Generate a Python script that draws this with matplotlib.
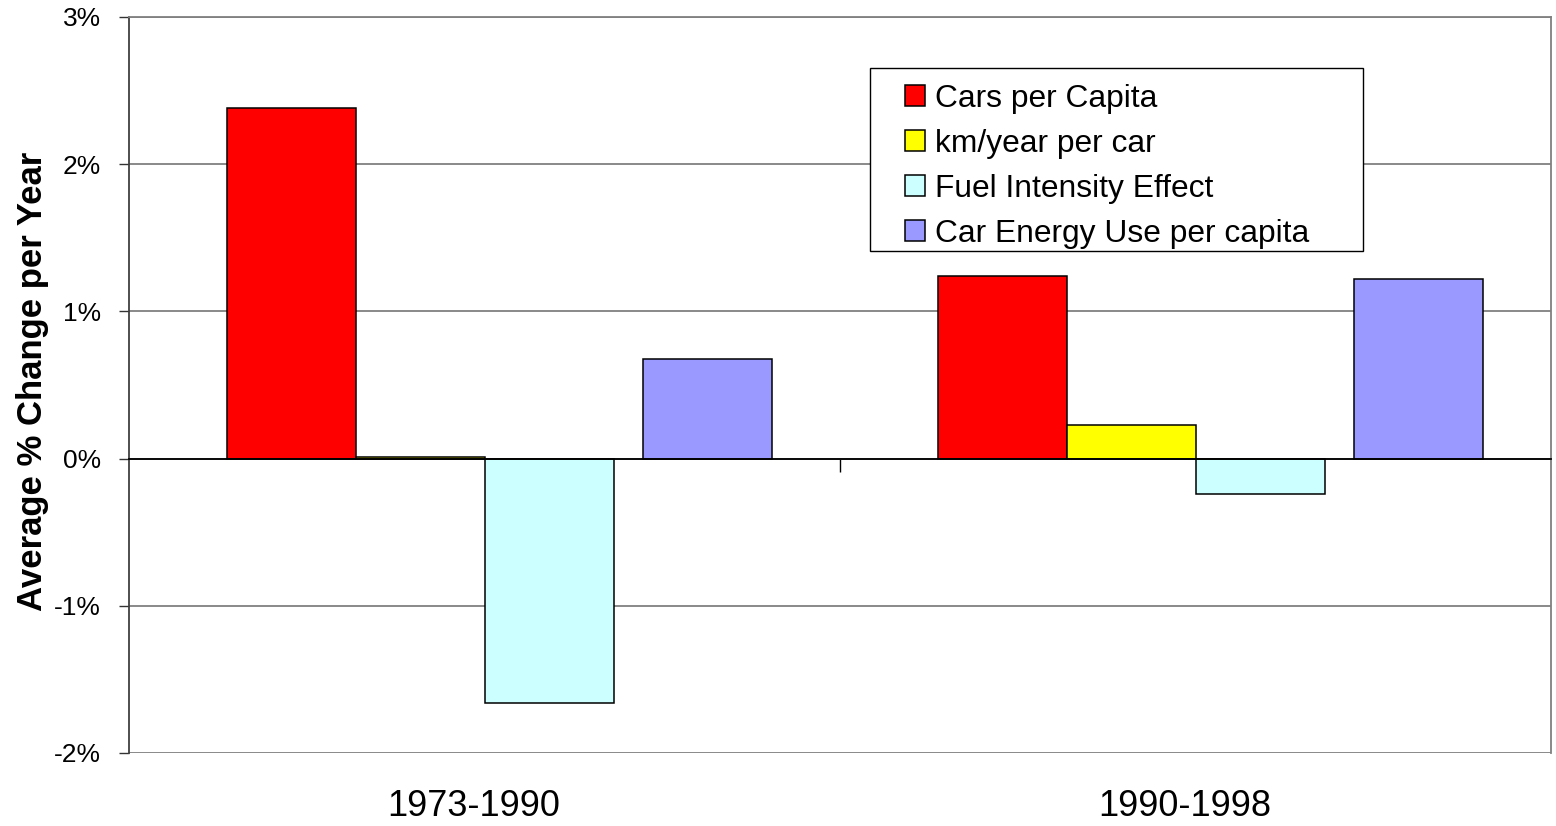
import matplotlib
matplotlib.use("Agg")
import matplotlib.pyplot as plt
import matplotlib.transforms as mtransforms
from matplotlib.patches import Rectangle
import numpy as np
from matplotlib.ticker import FuncFormatter

# data (% change per year)
periods = ["1973-1990", "1990-1998"]
series_names = ["Cars per Capita", "km/year per car", "Fuel Intensity Effect", "Car Energy Use per capita"]
cars_per_capita = [2.38, 1.24]
km_per_car = [0.01, 0.23]
fuel_intensity = [-1.66, -0.24]
energy_per_capita = [0.68, 1.22]
yticks = [-2, -1, 0, 1, 2, 3]

colors = ["#FF0000", "#FFFF00", "#CCFFFF", "#9999FF"]
bar_w = 0.1814
offsets = [-0.362, -0.362 + bar_w, -0.362 + 2 * bar_w, 0.223]

plt.rcParams["font.family"] = ["Liberation Sans", "DejaVu Sans"]

W, H = 1556, 826
fig = plt.figure(figsize=(W / 100, H / 100), dpi=100)
ax = fig.add_axes([129 / W, 1 - 753 / H, 1422 / W, 736 / H])

x = np.arange(len(periods))
values = [cars_per_capita, km_per_car, fuel_intensity, energy_per_capita]
for vals, off, col, name in zip(values, offsets, colors, series_names):
    ax.bar(x + off, vals, width=bar_w, align="edge", color=col,
           edgecolor="black", linewidth=1.1, label=name, zorder=3)

ax.set_xlim(-0.5, 1.5)
ax.set_ylim(-2, 3)
ax.set_yticks(yticks)
ax.yaxis.set_major_formatter(FuncFormatter(lambda v, p: f"{v:.0f}%"))
ax.tick_params(axis="y", length=7, width=1, pad=13, labelsize=19, color="#333333")
ax.grid(axis="y", color="#808080", linewidth=1.3, zorder=0)

# category axis crosses at 0
ax.spines["bottom"].set_position(("data", 0))
ax.spines["bottom"].set_color("black")
ax.spines["bottom"].set_linewidth(1.3)
ax.spines["bottom"].set_zorder(4)
ax.spines["left"].set_color("#404040")
ax.spines["left"].set_linewidth(1.3)
for s in ["top", "right"]:
    ax.spines[s].set_color("#808080")
    ax.spines[s].set_linewidth(1.3)
ax.set_xticks([0.5])
ax.set_xticklabels([""])
ax.tick_params(axis="x", length=9, width=1, color="black")

sec = ax.secondary_xaxis("bottom")
sec.spines["bottom"].set_visible(False)
sec.set_xticks(x, labels=periods)
sec.tick_params(length=0, pad=26, labelsize=26)
shift = mtransforms.ScaledTranslation(-11 / 100, 0, fig.dpi_scale_trans)
for lbl in sec.get_xticklabels():
    lbl.set_transform(lbl.get_transform() + shift)

ax.set_ylabel("Average % Change per Year", fontsize=25, fontweight="bold")
ax.yaxis.set_label_coords(-0.056, 0.505)

# legend: entries without frame, Excel-like box drawn separately
leg = ax.legend(loc="upper left", bbox_to_anchor=((905 - 129) / 1422, (753 - 84) / 736),
                fontsize=22.9, frameon=False, borderpad=0, labelspacing=0.47,
                handlelength=0.63, handleheight=0.63, handletextpad=0.3,
                borderaxespad=0)
box = Rectangle(((870 - 129) / 1422, (753 - 251) / 736), 493 / 1422, 183 / 736,
                transform=ax.transAxes, facecolor="white", edgecolor="black",
                linewidth=1.0, zorder=4.5)
ax.add_patch(box)
leg.set_zorder(5)

fig.savefig("out.png", dpi=100, facecolor="white")
